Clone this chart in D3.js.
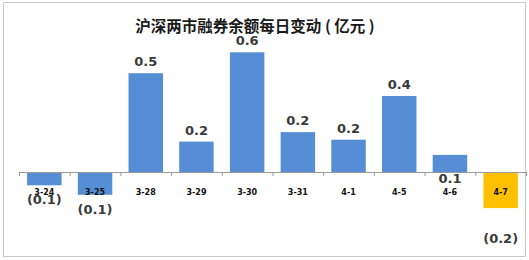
<!DOCTYPE html>
<html>
<head>
<meta charset="utf-8">
<script src="https://cdn.jsdelivr.net/npm/d3@7"></script>
<style>
  body { margin: 0; background: #fff; }
</style>
</head>
<body>
<script>
// daily change in securities-lending balance, SH + SZ (100m yuan)
var dates = ["3-24", "3-25", "3-28", "3-29", "3-30", "3-31", "4-1", "4-5", "4-6", "4-7"];
var changes = [-0.07, -0.12, 0.52, 0.16, 0.63, 0.21, 0.17, 0.40, 0.09, -0.19];
var title = "沪深两市融券余额每日变动 ( 亿元 )";

// hand-moved labels (px), like the original
var labelShift = [0, 0, 0, 0, 0, 0, 0, 0, 35, 16];

var outerWidth = 529,
    outerHeight = 260;

var svg = d3.select("body")
    .append("svg")
    .attr("width", outerWidth)
    .attr("height", outerHeight);

// chart frame
svg.append("rect")
    .attr("x", 3.5)
    .attr("y", 2.5)
    .attr("width", 522)
    .attr("height", 254)
    .style("fill", "#fff")
    .style("stroke", "#c8c8c8");

var x = d3.scaleBand()
    .domain(dates)
    .range([19, 526])
    .paddingInner(0.32)
    .paddingOuter(0.16);

var y = d3.scaleLinear()
    .domain([-0.3, 0.7])
    .range([229, 39]);

// index scale just for tick marks between categories
var xEdge = d3.scaleLinear()
    .domain([0, dates.length])
    .range([19, 526]);

svg.append("text")
    .attr("x", 255)
    .attr("y", 32)
    .style("text-anchor", "middle")
    .attr("font-family", "'Noto Sans CJK SC', sans-serif")
    .attr("font-size", "15.5px")
    .attr("font-weight", "700")
    .style("fill", "#1a1a1a")
    .style("white-space", "pre")
    .text(title);

// bars
svg.selectAll(".bar")
    .data(changes)
    .enter().append("rect")
    .attr("class", "bar")
    .attr("x", function(d, i) { return x(dates[i]); })
    .attr("width", x.bandwidth())
    .attr("y", function(d) { return y(Math.max(0, d)); })
    .attr("height", function(d) { return Math.abs(y(d) - y(0)); })
    .style("fill", function(d, i) { return i == dates.length - 1 ? "#ffc000" : "#558ed5"; });

// x axis with ticks on the category edges
var axis = svg.append("g")
    .attr("transform", "translate(0," + y(0) + ")")
    .call(d3.axisBottom(xEdge)
        .tickValues(d3.range(dates.length + 1))
        .tickSizeInner(4)
        .tickSizeOuter(0)
        .tickFormat(""));
axis.select(".domain").style("stroke", "#9a9a9a");
axis.selectAll(".tick line").style("stroke", "#9a9a9a");

// category labels
svg.selectAll(".cat")
    .data(dates)
    .enter().append("text")
    .attr("class", "cat")
    .attr("x", function(d) { return x(d) + x.bandwidth() / 2; })
    .attr("y", 195)
    .style("text-anchor", "middle")
    .attr("font-family", "'DejaVu Sans', sans-serif")
    .attr("font-size", "8px")
    .attr("font-weight", "700")
    .style("fill", "#111")
    .text(function(d) { return d; });

// value labels, negatives in brackets
function fmt(v) {
    var s = (Math.round(Math.abs(v) * 10) / 10).toFixed(1);
    return v < 0 ? "(" + s + ")" : s;
}

svg.selectAll(".val")
    .data(changes)
    .enter().append("text")
    .attr("class", "val")
    .attr("x", function(d, i) { return x(dates[i]) + x.bandwidth() / 2; })
    .attr("y", function(d, i) {
        return (d >= 0 ? y(d) - 7 : y(d) + 19) + labelShift[i];
    })
    .style("text-anchor", "middle")
    .attr("font-family", "'DejaVu Sans', sans-serif")
    .attr("font-size", "13px")
    .attr("font-weight", "700")
    .style("fill", "#3a3a3a")
    .text(function(d) { return fmt(d); });
</script>
</body>
</html>
